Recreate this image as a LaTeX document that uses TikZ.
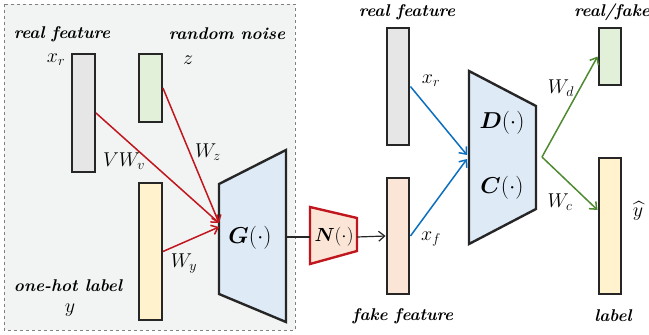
\RequirePackage{fix-cm}
\documentclass[tikz,border=0pt]{standalone}
\usepackage{amsmath,bm}
\usetikzlibrary{arrows.meta,calc}
\definecolor{boxfill}{HTML}{F2F3F3}
\definecolor{barline}{HTML}{262626}
\definecolor{grayfill}{HTML}{E7E6E6}
\definecolor{greenfill}{HTML}{E2F0D9}
\definecolor{yellowfill}{HTML}{FFF2CC}
\definecolor{pinkfill}{HTML}{FBE5D6}
\definecolor{bluefill}{HTML}{DEEBF7}
\definecolor{redline}{HTML}{C0161E}
\definecolor{blueline}{HTML}{0B6FC0}
\definecolor{greenline}{HTML}{4E8A30}

\begin{document}
\begin{tikzpicture}[x=1pt,y=-1pt,font=\fontsize{20}{22}\selectfont]
    \tikzstyle{bar}=[draw=barline,line width=2.4pt,inner sep=0,minimum width=22.5pt]
    \tikzstyle{trap}=[draw=barline,line width=2.4pt,fill=bluefill,line join=miter]
    \tikzstyle{txt}=[font=\fontsize{17}{19}\selectfont\bfseries\itshape,inner sep=0]
    \tikzstyle{sym}=[inner sep=0]
    \tikzstyle{big sym}=[inner sep=0,font=\fontsize{23}{25}\selectfont]
    \tikzstyle{red arrow}=[draw=redline,line width=1.5pt,-{Straight Barb[length=6pt,width=10pt]}]
    \tikzstyle{blue arrow}=[draw=blueline,line width=1.5pt,-{Straight Barb[length=6pt,width=10pt]}]
    \tikzstyle{green arrow}=[draw=greenline,line width=1.5pt,-{Straight Barb[length=6pt,width=10pt]}]
    \useasboundingbox (0,0) rectangle (649,335);
    % generator side
    \draw[dashed,gray,fill=boxfill,line width=0.8pt] (4,4) rectangle (295,330);
    \node(xr)[bar,fill=grayfill,minimum height=117.5pt] at (83.5,113) {};
    \node(z)[bar,fill=greenfill,minimum height=67.5pt] at (150.5,88) {};
    \node(y)[bar,fill=yellowfill,minimum height=136.5pt] at (150.5,251.5) {};
    \draw[trap] (219,184) -- (286,150) -- (286,322) -- (219,294) -- cycle;
    \node(G)[big sym] at (250,238) {$\bm{G}(\cdot)$};
    \coordinate(gin1) at (219,223);
    \coordinate(gin2) at (219,227);
    \coordinate(gout) at (286,237);
    \draw[red arrow] (xr.east) -- (gin1);
    \draw[red arrow] (z.east) -- (gin1);
    \draw[red arrow] (y.east) -- (gin2);
    \node[txt] at (62,34) {real feature};
    \node[sym] at (56,60) {$x_r$};
    \node[txt] at (227,34) {random noise};
    \node[sym] at (188,60) {$z$};
    \node[sym] at (124,161) {$VW_v$};
    \node[sym] at (208,152) {$W_z$};
    \node[sym] at (184,264) {$W_y$};
    \node[txt] at (68,286) {one-hot label};
    \node[sym] at (70,310) {$y$};
    % noise layer
    \draw[draw=redline,line width=2.4pt,fill=pinkfill,line join=miter]
        (310,207) -- (357,218) -- (357,251) -- (310,264) -- cycle;
    \node(N)[sym,font=\fontsize{19}{21}\selectfont] at (334,237) {$\bm{N}(\cdot)$};
    \coordinate(nin) at (310,237);
    \coordinate(nout) at (357,237);
    \draw[barline,line width=1.2pt] (gout) -- (nin);
    % discriminator side
    \node(xr2)[bar,fill=grayfill,minimum height=116.5pt] at (398,86.5) {};
    \node(xf)[bar,fill=pinkfill,minimum height=115.5pt] at (398,236) {};
    \draw[barline,line width=1.2pt,-{Straight Barb[length=6pt,width=10pt]}] (nout) -- (xf.west);
    \draw[trap] (469,71) -- (536,106) -- (536,209) -- (469,244) -- cycle;
    \node(D)[big sym] at (502,123) {$\bm{D}(\cdot)$};
    \node(C)[big sym] at (502,188) {$\bm{C}(\cdot)$};
    \coordinate(din1) at (467,155);
    \coordinate(din2) at (467,159);
    \coordinate(dout) at (542,157);
    \draw[blue arrow] (xr2.east) -- (din1);
    \draw[blue arrow] (xf.east) -- (din2);
    \node(rf)[bar,fill=greenfill,minimum height=56.5pt] at (610,56.5) {};
    \node(lab)[bar,fill=yellowfill,minimum height=135.5pt] at (610,226) {};
    \draw[green arrow] (dout) -- (rf.west);
    \draw[green arrow] (dout) -- ([yshift=16pt]lab.west);
    \node[txt] at (407,12) {real feature};
    \node[sym] at (431,81) {$x_r$};
    \node[txt] at (403,316) {fake feature};
    \node[sym] at (431,239) {$x_f$};
    \node[sym] at (561,88) {$W_d$};
    \node[sym] at (560,202) {$W_c$};
    \node[txt] at (612,12) {real/fake};
    \node[sym] at (638,211) {$\widehat{y}$};
    \node[txt] at (613,316) {label};
\end{tikzpicture}
\end{document}
